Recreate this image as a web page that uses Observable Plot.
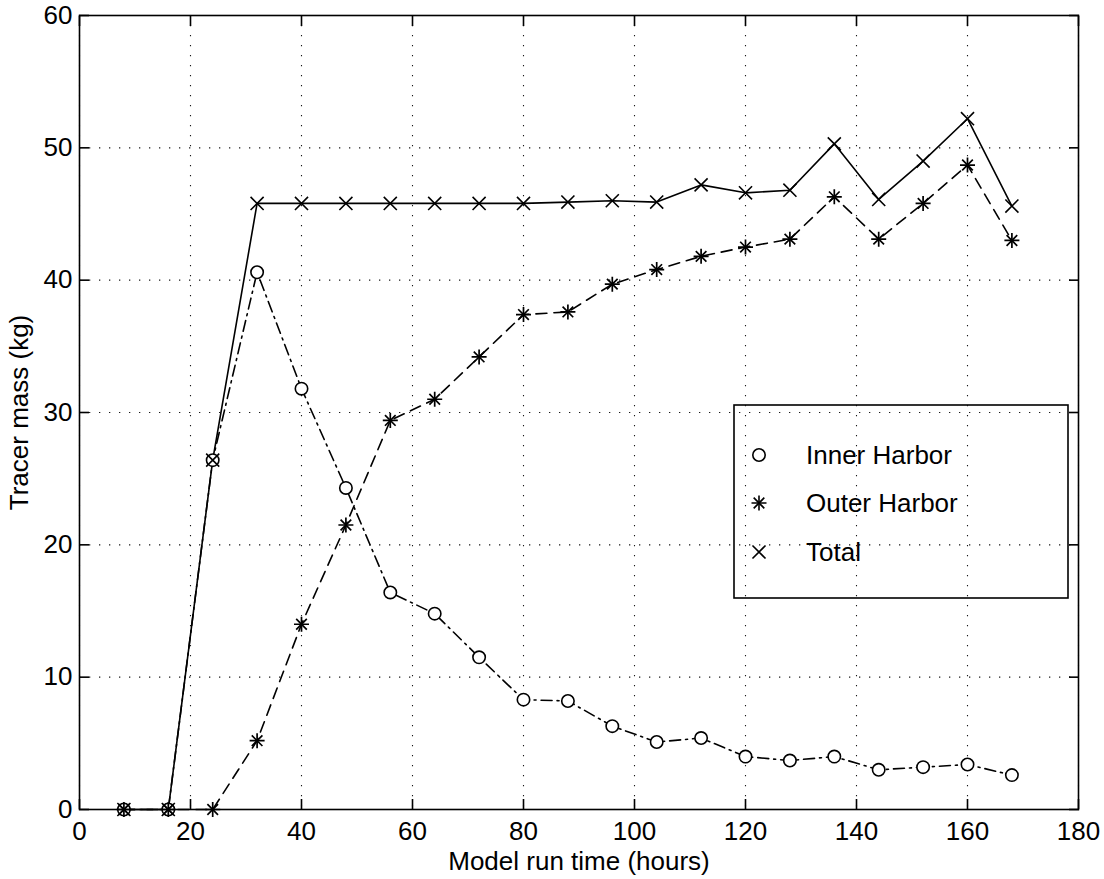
<!DOCTYPE html>
<html><head><meta charset="utf-8">
<script src="https://cdn.jsdelivr.net/npm/d3@7"></script>
<script src="https://cdn.jsdelivr.net/npm/@observablehq/plot@0.6"></script>
<style>body{margin:0;background:#fff} svg{display:block}</style>
</head><body><div id="chart"></div>
<script>
// Data (hours since start, tracer mass kg)
const hours = [8,16,24,32,40,48,56,64,72,80,88,96,104,112,120,128,136,144,152,160,168];
const inner = [0,0,26.4,40.6,31.8,24.3,16.4,14.8,11.5,8.3,8.2,6.3,5.1,5.4,4.0,3.7,4.0,3.0,3.2,3.4,2.6];
const outer = [0,0,0,5.2,14.0,21.5,29.4,31.0,34.2,37.4,37.6,39.7,40.8,41.8,42.5,43.1,46.3,43.1,45.8,48.7,43.0];
const total = [0,0,26.4,45.8,45.8,45.8,45.8,45.8,45.8,45.8,45.9,46.0,45.9,47.2,46.6,46.8,50.3,46.1,49.0,52.2,45.6];
const xTicks = [0,20,40,60,80,100,120,140,160,180];
const yTicks = [0,10,20,30,40,50,60];
const seriesNames = ["Inner Harbor","Outer Harbor","Total"];
const xTitle = "Model run time (hours)";
const yTitle = "Tracer mass (kg)";

const data = hours.map((h, i) => ({h, inner: inner[i], outer: outer[i], total: total[i]}));

const W = 1104, H = 879;
const M = {left: 79, right: 26, top: 15, bottom: 70};
const grid = {stroke: "#000", strokeOpacity: 0.9, strokeWidth: 1.1, strokeDasharray: "1.3,8.7"};
const blank = () => "";

const chart = Plot.plot({
  width: W, height: H,
  marginLeft: M.left, marginRight: M.right, marginTop: M.top, marginBottom: M.bottom,
  style: {fontFamily: "'Liberation Sans', Arial, sans-serif", fontSize: "26px", background: "#fff", color: "#000"},
  x: {domain: [0, 180]},
  y: {domain: [0, 60]},
  marks: [
    Plot.gridX(xTicks, grid),
    Plot.gridY(yTicks, grid),
    Plot.line(data, {x: "h", y: "total", stroke: "#000", strokeWidth: 1.6}),
    Plot.line(data, {x: "h", y: "outer", stroke: "#000", strokeWidth: 1.6, strokeDasharray: "11,7"}),
    Plot.line(data, {x: "h", y: "inner", stroke: "#000", strokeWidth: 1.6, strokeDasharray: "11,5,2,5"}),
    Plot.dot(data, {x: "h", y: "inner", symbol: "circle", r: 6.2, stroke: "#000", fill: "#fff", strokeWidth: 1.6}),
    Plot.dot(data, {x: "h", y: "outer", symbol: "plus", r: 4.9, stroke: "#000", strokeWidth: 1.7}),
    Plot.dot(data, {x: "h", y: "outer", symbol: "times", r: 4.9, stroke: "#000", strokeWidth: 1.7}),
    Plot.dot(data, {x: "h", y: "total", symbol: "times", r: 6, stroke: "#000", strokeWidth: 1.6}),
    Plot.frame({stroke: "#000", strokeWidth: 1.6}),
    // inward ticks on all four sides
    Plot.axisX(xTicks, {anchor: "bottom", tickSize: 10, dy: -10, tickFormat: blank, label: null, strokeWidth: 1.6}),
    Plot.axisX(xTicks, {anchor: "top", tickSize: 10, dy: 10, tickFormat: blank, label: null, strokeWidth: 1.6}),
    Plot.axisY(yTicks, {anchor: "left", tickSize: 10, dx: 10, tickFormat: blank, label: null, strokeWidth: 1.6}),
    Plot.axisY(yTicks, {anchor: "right", tickSize: 10, dx: -10, tickFormat: blank, label: null, strokeWidth: 1.6}),
    // labels
    Plot.axisX(xTicks, {anchor: "bottom", tickSize: 0, tickPadding: 12, label: xTitle, labelAnchor: "center", labelOffset: 60, labelArrow: "none"}),
    Plot.axisY(yTicks, {anchor: "left", tickSize: 0, tickPadding: 7, label: yTitle, labelAnchor: "center", labelOffset: 70, labelArrow: "none"})
  ]
});

// Legend (MATLAB style box with markers only)
const svg = d3.select(chart);
const lg = svg.append("g").attr("class", "legend").attr("text-anchor", "start");
const bx = 734, by = 405, bw = 334, bh = 193;
lg.append("rect").attr("x", bx).attr("y", by).attr("width", bw).attr("height", bh)
  .attr("fill", "none").attr("stroke", "#000").attr("stroke-width", 1.6);
const rows = [455, 503, 552];
const sym = (type, r) => d3.symbol(type, Math.PI * r * r)();
const markerShapes = [
  [sym(d3.symbolCircle, 6.2)],
  [sym(d3.symbolPlus, 4.9), sym(d3.symbolTimes, 4.9)],
  [sym(d3.symbolTimes, 6)]
];
seriesNames.forEach((name, i) => {
  markerShapes[i].forEach(p => lg.append("path").attr("d", p)
    .attr("transform", `translate(759,${rows[i]})`)
    .attr("fill", "none").attr("stroke", "#000").attr("stroke-width", 1.6));
  lg.append("text").attr("x", 806).attr("y", rows[i]).attr("dy", "0.33em")
    .attr("text-anchor", "start")
    .attr("font-family", "'Liberation Sans', Arial, sans-serif").attr("font-size", 26)
    .attr("fill", "#000").text(name);
});

document.getElementById("chart").appendChild(chart);
</script>
</body></html>
